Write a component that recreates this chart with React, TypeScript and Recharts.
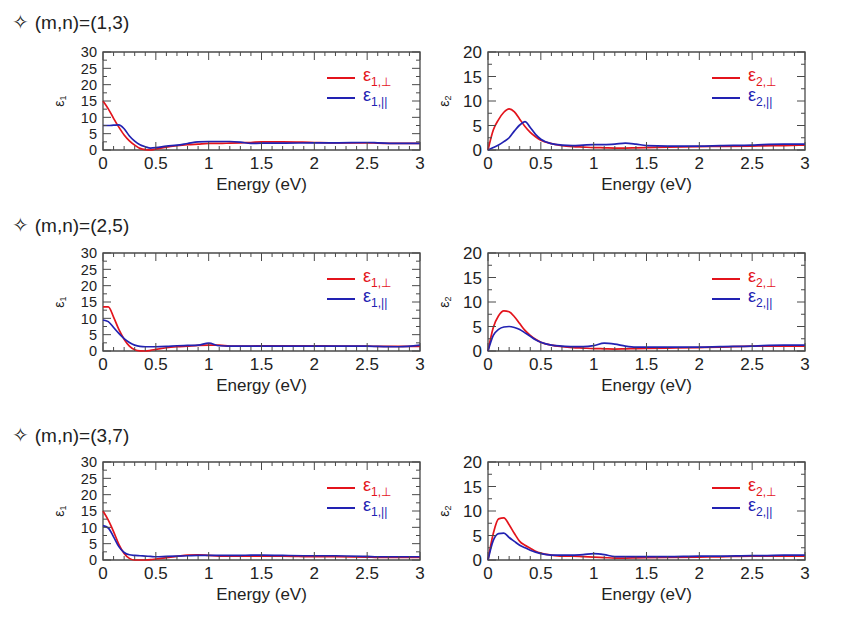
import React from "react";
import { LineChart, Line, XAxis, YAxis, Legend, Label, ReferenceArea } from "recharts";

// photon energy grid (eV), shared by every panel
const energy = [0, 0.05, 0.1, 0.15, 0.2, 0.25, 0.3, 0.35, 0.4, 0.45, 0.5, 0.6, 0.7, 0.8, 0.9, 1.0, 1.1, 1.2, 1.3, 1.4, 1.5, 1.7, 2.0, 2.2, 2.5, 2.6, 2.8, 3.0];

// (m,n)=(1,3)
const eps1Perp13 = [15, 12.6, 9.7, 7.0, 4.6, 2.8, 1.5, 0.5, 0.1, 0, 0.3, 0.9, 1.3, 1.6, 1.8, 2.0, 2.0, 2.1, 2.2, 2.3, 2.5, 2.5, 2.3, 2.2, 2.2, 2.1, 2.0, 2.0];
const eps1Par13 = [7.5, 7.5, 7.6, 7.7, 6.5, 4.3, 2.7, 1.6, 1.0, 0.6, 0.7, 1.2, 1.5, 2.0, 2.5, 2.6, 2.6, 2.6, 2.4, 2.0, 2.1, 2.1, 2.2, 2.2, 2.3, 2.2, 2.0, 2.0];
const eps2Perp13 = [0, 4.1, 6.2, 7.7, 8.4, 7.8, 6.3, 4.8, 3.6, 2.7, 2.0, 1.3, 0.9, 0.7, 0.6, 0.5, 0.45, 0.4, 0.4, 0.45, 0.5, 0.6, 0.7, 0.75, 0.8, 0.85, 0.9, 1.0];
const eps2Par13 = [0, 0.5, 1.0, 1.7, 2.5, 3.9, 5.1, 5.8, 4.6, 3.2, 2.2, 1.3, 1.0, 0.9, 1.0, 1.1, 1.1, 1.2, 1.4, 1.2, 0.9, 0.8, 0.8, 0.9, 1.0, 1.1, 1.2, 1.2];

// (m,n)=(2,5)
const eps1Perp25 = [13.5, 13.5, 10.4, 6.6, 3.6, 1.5, 0.4, 0.05, 0, 0.2, 0.5, 1.0, 1.3, 1.5, 1.7, 1.8, 1.8, 1.5, 1.5, 1.5, 1.6, 1.6, 1.6, 1.5, 1.5, 1.4, 1.4, 1.4];
const eps1Par25 = [9.5, 9.0, 7.2, 5.4, 3.8, 2.6, 1.8, 1.4, 1.3, 1.3, 1.3, 1.4, 1.6, 1.7, 1.8, 2.4, 1.6, 1.5, 1.5, 1.5, 1.5, 1.5, 1.5, 1.5, 1.5, 1.4, 1.3, 1.8];
const eps2Perp25 = [0, 4.8, 7.2, 8.2, 8.0, 7.0, 5.6, 4.2, 3.2, 2.4, 1.8, 1.2, 0.9, 0.7, 0.6, 0.5, 0.45, 0.4, 0.45, 0.5, 0.55, 0.6, 0.7, 0.8, 1.0, 1.0, 1.0, 1.0];
const eps2Par25 = [0, 3.2, 4.4, 4.9, 5.0, 4.8, 4.4, 3.7, 3.0, 2.3, 1.8, 1.2, 1.0, 0.9, 0.9, 1.1, 1.6, 1.4, 1.0, 0.8, 0.8, 0.8, 0.8, 0.9, 1.0, 1.1, 1.2, 1.2];

// (m,n)=(3,7)
const eps1Perp37 = [15, 12.2, 8.7, 4.8, 2.0, 0.5, 0, 0, 0, 0.1, 0.3, 0.7, 1.1, 1.5, 1.6, 1.4, 1.2, 1.2, 1.2, 1.2, 1.2, 1.2, 1.0, 1.0, 0.9, 0.8, 0.8, 0.8];
const eps1Par37 = [10.5, 9.8, 7.1, 4.1, 2.3, 1.6, 1.4, 1.3, 1.2, 1.1, 1.0, 1.1, 1.2, 1.3, 1.4, 1.4, 1.4, 1.4, 1.4, 1.5, 1.5, 1.4, 1.3, 1.3, 1.1, 1.0, 1.0, 1.0];
const eps2Perp37 = [0, 5.4, 8.4, 8.6, 7.2, 5.4, 3.8, 3.0, 2.4, 1.8, 1.4, 1.0, 0.8, 0.8, 0.7, 0.6, 0.5, 0.4, 0.4, 0.45, 0.5, 0.55, 0.6, 0.65, 0.8, 0.8, 0.8, 0.8];
const eps2Par37 = [0, 4.0, 5.4, 5.5, 4.6, 3.8, 3.0, 2.5, 2.0, 1.6, 1.3, 1.0, 1.0, 1.0, 1.1, 1.3, 1.1, 0.7, 0.7, 0.7, 0.7, 0.7, 0.8, 0.8, 0.9, 0.9, 1.0, 1.0];

const rowTitles = ["(m,n)=(1,3)", "(m,n)=(2,5)", "(m,n)=(3,7)"];

const xTicks = [0, 0.1, 0.2, 0.3, 0.4, 0.5, 0.6, 0.7, 0.8, 0.9, 1, 1.1, 1.2, 1.3, 1.4, 1.5, 1.6, 1.7, 1.8, 1.9, 2, 2.1, 2.2, 2.3, 2.4, 2.5, 2.6, 2.7, 2.8, 2.9, 3];
const eps1Ticks = [0, 2.5, 5, 7.5, 10, 12.5, 15, 17.5, 20, 22.5, 25, 27.5, 30];
const eps2Ticks = [0, 2.5, 5, 7.5, 10, 12.5, 15, 17.5, 20];

const RED = "#e3141c";
const BLUE = "#2222b2";
const AXIS = "#4a4a4a";
const TEXT = "#222";
const FONT = '"Liberation Sans", Arial, Helvetica, sans-serif';

const PLOT_W = 317;
const PLOT_H = 98;
// axes take 1px each, so the plot box starts at margin + 1
const M = { top: 10, right: 20, bottom: 49, left: 54 };
const CHART_W = M.left + 1 + PLOT_W + M.right;
const CHART_H = M.top + PLOT_H + 1 + M.bottom;

const rowTops = [52, 253, 462];
const titleCenters = [22, 225, 435];
const colLefts = [103, 488];

const XTick = (props: any) => {
  const { x, y, payload } = props;
  const v = payload.value as number;
  const major = Math.abs(v * 2 - Math.round(v * 2)) < 1e-6;
  const len = major ? 8 : 4;
  return (
    <g>
      <line x1={x} x2={x} y1={y} y2={y - len} stroke={AXIS} strokeWidth={1} />
      <line x1={x} x2={x} y1={y - PLOT_H} y2={y - PLOT_H + len} stroke={AXIS} strokeWidth={1} />
      {major && (
        <text x={x} y={y + 19} textAnchor="middle" fontSize={17} fill={TEXT} fontFamily={FONT}>
          {String(v)}
        </text>
      )}
    </g>
  );
};

const YTick = (props: any) => {
  const { x, y, payload, labelSize } = props;
  const v = payload.value as number;
  const major = v % 5 === 0;
  const len = major ? 8 : 4;
  return (
    <g>
      <line x1={x} x2={x + len} y1={y} y2={y} stroke={AXIS} strokeWidth={1} />
      <line x1={x + PLOT_W} x2={x + PLOT_W - len} y1={y} y2={y} stroke={AXIS} strokeWidth={1} />
      {major && (
        <text x={x - 6} y={y} dy="0.36em" textAnchor="end" fontSize={labelSize} fill={TEXT} fontFamily={FONT}>
          {String(v)}
        </text>
      )}
    </g>
  );
};

const EpsTitle = ({ viewBox, n }: any) => {
  if (!viewBox) return null;
  const cx = viewBox.x + viewBox.width - 44;
  const cy = viewBox.y + viewBox.height / 2;
  return (
    <text
      x={cx}
      y={cy}
      textAnchor="middle"
      dominantBaseline="central"
      transform={`rotate(-90 ${cx} ${cy})`}
      fontSize={14}
      fill={TEXT}
      fontFamily={FONT}
    >
      ε<tspan fontSize={9} dy={4}>{n}</tspan>
    </text>
  );
};

const LegendBox = ({ n }: { n: number }) => {
  const rows = [
    { color: RED, sub: `${n},⊥` },
    { color: BLUE, sub: `${n},||` },
  ];
  return (
    <div style={{ fontFamily: FONT }}>
      {rows.map((r) => (
        <div key={r.sub} style={{ display: "flex", alignItems: "center", height: 20 }}>
          <svg width={28} height={4} style={{ display: "block" }}>
            <line x1={0} x2={28} y1={2} y2={2} stroke={r.color} strokeWidth={2} />
          </svg>
          <span style={{ marginLeft: 8, color: r.color, fontSize: 18, lineHeight: "20px", whiteSpace: "nowrap" }}>
            ε<sub style={{ fontSize: 12, verticalAlign: "-5px" }}>{r.sub}</sub>
          </span>
        </div>
      ))}
    </div>
  );
};

interface PanelProps {
  perp: number[];
  par: number[];
  n: number;
  yMax: number;
  yTicks: number[];
  left: number;
  top: number;
}

const Panel = ({ perp, par, n, yMax, yTicks, left, top }: PanelProps) => {
  const data = energy.map((e, i) => ({ e, perp: perp[i], par: par[i] }));
  // the 0-30 axis has its labels packed tight, so they get a slightly smaller size
  const labelSize = yTicks.length > 10 ? 14.5 : 17;
  return (
    <div style={{ position: "absolute", left: left - M.left - 1, top: top - M.top }}>
      <LineChart width={CHART_W} height={CHART_H} data={data} margin={M}>
        <XAxis
          dataKey="e"
          type="number"
          domain={[0, 3]}
          ticks={xTicks}
          interval={0}
          height={1}
          tickSize={0}
          tickMargin={0}
          axisLine={false}
          tickLine={false}
          tick={(p: any) => <XTick {...p} />}
        >
          <Label value="Energy (eV)" position="bottom" offset={27} fontSize={17} fill={TEXT} fontFamily={FONT} />
        </XAxis>
        <YAxis
          type="number"
          domain={[0, yMax]}
          ticks={yTicks}
          interval={0}
          width={1}
          tickSize={0}
          tickMargin={0}
          axisLine={false}
          tickLine={false}
          tick={(p: any) => <YTick {...p} labelSize={labelSize} />}
        >
          <Label content={(p: any) => <EpsTitle viewBox={p.viewBox} n={n} />} />
        </YAxis>
        <ReferenceArea x1={0} x2={3} y1={0} y2={yMax} fill="none" stroke={AXIS} strokeWidth={1.3} />
        <Line type="monotone" dataKey="perp" stroke={RED} strokeWidth={1.7} dot={false} isAnimationActive={false} />
        <Line type="monotone" dataKey="par" stroke={BLUE} strokeWidth={1.7} dot={false} isAnimationActive={false} />
        <Legend
          layout="vertical"
          align="center"
          verticalAlign="middle"
          wrapperStyle={{ left: M.left + 1 + PLOT_W - 93, top: M.top + 16, width: 100, height: 40 }}
          content={() => <LegendBox n={n} />}
        />
      </LineChart>
    </div>
  );
};

const panels = [
  { perp: eps1Perp13, par: eps1Par13, perp2: eps2Perp13, par2: eps2Par13 },
  { perp: eps1Perp25, par: eps1Par25, perp2: eps2Perp25, par2: eps2Par25 },
  { perp: eps1Perp37, par: eps1Par37, perp2: eps2Perp37, par2: eps2Par37 },
];

export default function App() {
  return (
    <div style={{ position: "relative", width: 864, height: 617, margin: -8, background: "#fff", fontFamily: FONT }}>
      {panels.map((row, i) => (
        <React.Fragment key={rowTitles[i]}>
          <div
            style={{
              position: "absolute",
              left: 12,
              top: titleCenters[i] - 12,
              lineHeight: "24px",
              fontSize: 19,
              color: TEXT,
              whiteSpace: "nowrap",
            }}
          >
            <span style={{ fontFamily: '"DejaVu Sans", sans-serif', fontSize: 20, marginRight: 6 }}>✧</span>
            {rowTitles[i]}
          </div>
          <Panel perp={row.perp} par={row.par} n={1} yMax={30} yTicks={eps1Ticks} left={colLefts[0]} top={rowTops[i]} />
          <Panel perp={row.perp2} par={row.par2} n={2} yMax={20} yTicks={eps2Ticks} left={colLefts[1]} top={rowTops[i]} />
        </React.Fragment>
      ))}
    </div>
  );
}
